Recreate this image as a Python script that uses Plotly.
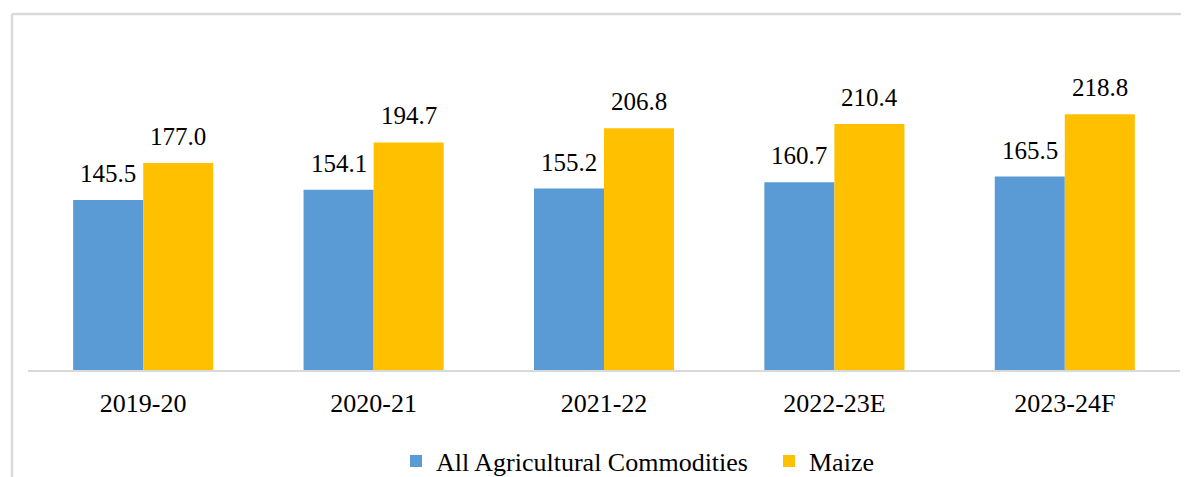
import plotly.graph_objects as go

categories = ["2019-20", "2020-21", "2021-22", "2022-23E", "2023-24F"]
all_agri = [145.5, 154.1, 155.2, 160.7, 165.5]
maize = [177.0, 194.7, 206.8, 210.4, 218.8]
series_names = ["All Agricultural Commodities", "Maize"]
colors = ["#5B9BD5", "#FFC000"]

FONT = "Liberation Serif"

fig = go.Figure()
fig.add_trace(go.Bar(x=categories, y=all_agri, name=series_names[0],
                     marker=dict(color=colors[0], line=dict(width=0))))
fig.add_trace(go.Bar(x=categories, y=maize, name=series_names[1],
                     marker=dict(color=colors[1], line=dict(width=0))))

annotations = []
for vals, shift in ((all_agri, -35), (maize, 35)):
    for c, v in zip(categories, vals):
        annotations.append(dict(x=c, y=v, xref="x", yref="y", text=f"{v:.1f}",
                                showarrow=False, xshift=shift, yshift=11,
                                yanchor="bottom", xanchor="center",
                                font=dict(family=FONT, size=25, color="#000000")))

# page body has an 8px offset; figure overflows bottom of viewport on purpose
OFF = 8
W, H = 1189 - OFF, 520
ml, mr, mt = 28 - OFF, 9, 40 - OFF
base = 370 - OFF
mb = H - base
pw = W - ml - mr
ph = H - mt - mb
fx = (12 - OFF - ml) / pw
fy = (base - (14 - OFF)) / ph
fb = (base - 505) / ph

fig.update_layout(
    width=W, height=H,
    margin=dict(l=ml, r=mr, t=mt, b=mb),
    paper_bgcolor="white", plot_bgcolor="white",
    barmode="group", bargap=0.392, bargroupgap=0,
    font=dict(family=FONT, size=25, color="#000000"),
    xaxis=dict(showline=True, linecolor="#D9D9D9", linewidth=2,
               showgrid=False, ticks="", ticklabelstandoff=9,
               tickfont=dict(family=FONT, size=26, color="#000000")),
    yaxis=dict(range=[0, 282.3], visible=False, showgrid=False),
    legend=dict(orientation="h", xref="container", yref="container",
                x=(396 - OFF) / W, xanchor="left",
                y=1 - (461 - OFF) / H, yanchor="middle",
                font=dict(family=FONT, size=26, color="#000000"),
                entrywidth=328, entrywidthmode="pixels", itemwidth=30,
                itemsizing="constant", traceorder="normal"),
    annotations=annotations,
    shapes=[dict(type="line", xref="paper", yref="paper", x0=fx, x1=fx, y0=fb, y1=fy,
                 line=dict(color="#D9D9D9", width=2.5)),
            dict(type="line", xref="paper", yref="paper", x0=fx, x1=1.2, y0=fy, y1=fy,
                 line=dict(color="#D9D9D9", width=2.5))],
)

fig.write_html("out.html")
